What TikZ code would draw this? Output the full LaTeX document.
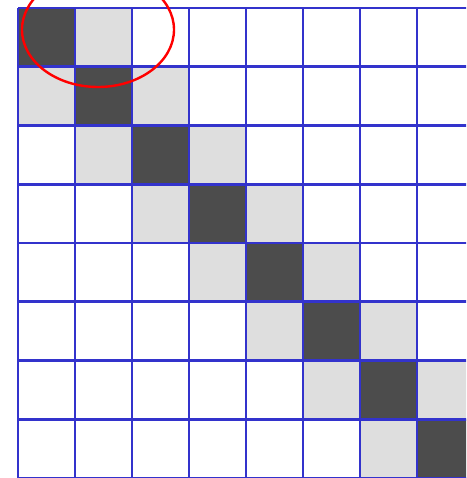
\documentclass[tikz,border=0pt]{standalone}
\definecolor{gridblue}{RGB}{51,51,204}
\begin{document}
\begin{tikzpicture}[x=1pt,y=-1pt,
  diagcell/.style={fill=black!70},
  nearcell/.style={fill=black!13},
  gridline/.style={draw=gridblue,line width=2.8pt}]
  \useasboundingbox (0,0) rectangle (466,478);
  \clip (0,0) rectangle (466,478);
  \def\cw{57} \def\ch{58.75}
  % band of the matrix
  \foreach \k in {0,...,7}
    \fill[diagcell] ({18+\cw*\k},{8+\ch*\k}) rectangle +(\cw,\ch);
  \foreach \k in {0,...,6} {
    \fill[nearcell] ({18+\cw*(\k+1)},{8+\ch*\k}) rectangle +(\cw,\ch);
    \fill[nearcell] ({18+\cw*\k},{8+\ch*(\k+1)}) rectangle +(\cw,\ch);
  }
  % grid
  \foreach \k in {0,...,8} {
    \draw[gridline] ({18+\cw*\k},8) -- ({18+\cw*\k},{8+8*\ch});
    \draw[gridline] (18,{8+\ch*\k}) -- ({18+8*\cw},{8+\ch*\k});
  }
  \draw[red,line width=2.4pt] (98,29.7) ellipse [x radius=76,y radius=57.3];
\end{tikzpicture}
\end{document}
